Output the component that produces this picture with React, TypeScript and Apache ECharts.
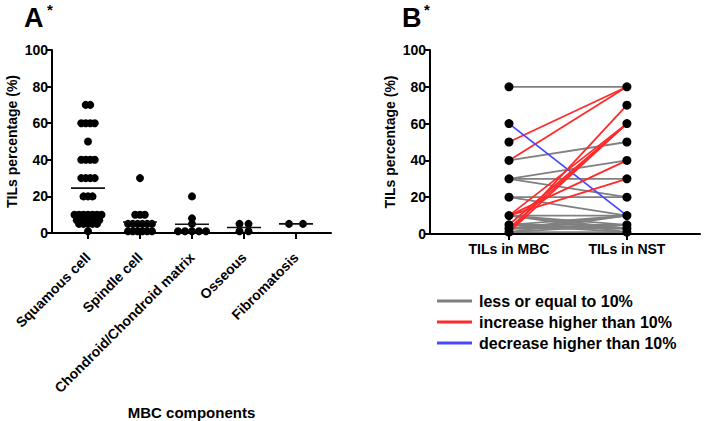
import React, { useEffect, useRef } from "react";
import * as echarts from "echarts";

const categories = ["Squamous cell", "Spindle cell", "Chondroid/Chondroid matrix", "Osseous", "Fibromatosis"];
const squamous = [70, 70, 60, 60, 60, 60, 50, 40, 40, 40, 40, 30, 30, 30, 30, 20, 20, 20, 10, 10, 10, 10, 10, 10, 10, 7, 7, 7, 7, 7, 7, 5, 5, 5, 5, 5, 1];
const spindle = [30, 10, 10, 10, 5, 5, 5, 5, 5, 5, 1, 1, 1, 1, 1, 1];
const chondroid = [20, 8, 5, 1, 1, 1, 1, 1];
const osseous = [5, 5, 1, 1];
const fibromatosis = [5, 5];
const groupsA = [squamous, spindle, chondroid, osseous, fibromatosis];

const pairCategories = ["TILs in MBC", "TILs in NST"];
const tilsMBC = [80, 50, 40, 60, 40, 30, 30, 30, 20, 20, 1, 10, 5, 3, 1, 10, 10, 10, 10, 10, 5, 5, 5, 3, 3, 1, 1, 3, 1, 10, 5];
const tilsNST = [80, 80, 80, 10, 50, 40, 30, 20, 20, 10, 70, 60, 60, 60, 60, 40, 30, 10, 5, 1, 10, 5, 1, 10, 3, 5, 1, 5, 10, 3, 3];

const legendNames = ["less or equal to 10%", "increase higher than 10%", "decrease higher than 10%"];
const legendColors = ["#808080", "#ff2a2a", "#4848ff"];

const FONT = "'Liberation Sans', Arial, sans-serif";

// symmetric row layout: equal values spread side by side, centred on the category
function rowOffsets(values: number[], spacing: number): number[] {
  const counts = new Map<number, number>();
  values.forEach((v) => counts.set(v, (counts.get(v) || 0) + 1));
  const seen = new Map<number, number>();
  return values.map((v) => {
    const n = counts.get(v) || 1;
    const j = seen.get(v) || 0;
    seen.set(v, j + 1);
    return (j - (n - 1) / 2) * spacing;
  });
}

export default function App() {
  const ref = useRef<HTMLDivElement>(null);
  useEffect(() => {
    if (!ref.current) return;
    const chart = echarts.init(ref.current, null, { renderer: "svg" });

    const gridA = { left: 52, top: 50, width: 279, height: 184 };
    const gridB = { left: 430, top: 50, width: 270, height: 184 };
    const xAMin = 0.308, xAMax = 5.673;
    const xBMin = 0.33, xBMax = 2.62;
    const pxPerX = gridA.width / (xAMax - xAMin);
    const spacings = [4.5, 4.8, 7, 9, 14];

    const dotsA: number[][] = [];
    const means: number[][] = [];
    groupsA.forEach((g, i) => {
      const offs = rowOffsets(g, spacings[i]);
      g.forEach((v, j) => dotsA.push([i + 1 + offs[j] / pxPerX, v]));
      means.push([i + 1, g.reduce((a, b) => a + b, 0) / g.length]);
    });

    const lineSeries: any[] = tilsMBC.map((a, i) => {
      const b = tilsNST[i];
      const d = b - a;
      const gi = d > 10 ? 1 : d < -10 ? 2 : 0;
      return {
        type: "line",
        name: legendNames[gi],
        xAxisIndex: 1,
        yAxisIndex: 1,
        data: [[1, a], [2, b]],
        symbol: "none",
        silent: true,
        z: gi === 0 ? 2 : 3,
        lineStyle: { color: legendColors[gi], width: 1.8 },
        itemStyle: { color: legendColors[gi] },
      };
    });
    const dotsB: number[][] = [];
    Array.from(new Set(tilsMBC)).forEach((v) => dotsB.push([1, v]));
    Array.from(new Set(tilsNST)).forEach((v) => dotsB.push([2, v]));

    const axisLine = { show: true, lineStyle: { color: "#000", width: 2 } };
    const axisTick = { show: true, length: 6, lineStyle: { color: "#000", width: 2 } };
    const tickLabel = { color: "#000", fontWeight: "bold", fontSize: 14, fontFamily: FONT, margin: 4 };
    const yAxisBase = {
      type: "value",
      min: 0,
      max: 100,
      interval: 20,
      axisLine,
      axisTick,
      splitLine: { show: false },
      axisLabel: tickLabel,
      name: "TILs percentage (%)",
      nameLocation: "middle",
      nameRotate: 90,
      nameTextStyle: { color: "#000", fontWeight: "bold", fontSize: 14, fontFamily: FONT },
    };

    chart.setOption({
      animation: false,
      backgroundColor: "#fff",
      grid: [gridA, gridB],
      legend: {
        data: legendNames,
        orient: "vertical",
        left: 432,
        top: 288,
        itemWidth: 35,
        itemHeight: 3,
        itemGap: 5,
        icon: "rect",
        selectedMode: false,
        textStyle: { color: "#000", fontWeight: "bold", fontSize: 16, fontFamily: FONT, padding: [0, 0, 0, 2] },
      },
      xAxis: [
        {
          type: "value",
          gridIndex: 0,
          min: xAMin,
          max: xAMax,
          axisLine,
          axisTick: { ...axisTick, customValues: [1, 2, 3, 4, 5] },
          splitLine: { show: false },
          axisLabel: {
            ...tickLabel,
            margin: 22,
            rotate: 45,
            customValues: [1, 2, 3, 4, 5],
            formatter: (v: number) => categories[Math.round(v) - 1] || "",
          },
          name: "MBC components",
          nameLocation: "middle",
          nameGap: 172,
          nameTextStyle: { color: "#000", fontWeight: "bold", fontSize: 15, fontFamily: FONT },
        },
        {
          type: "value",
          gridIndex: 1,
          min: xBMin,
          max: xBMax,
          axisLine,
          axisTick: { ...axisTick, customValues: [1, 2] },
          splitLine: { show: false },
          axisLabel: {
            ...tickLabel,
            fontSize: 14,
            margin: 8,
            customValues: [1, 2],
            formatter: (v: number) => pairCategories[Math.round(v) - 1] || "",
          },
        },
      ],
      yAxis: [
        { ...yAxisBase, gridIndex: 0, nameGap: 33 },
        { ...yAxisBase, gridIndex: 1, nameGap: 33 },
      ],
      graphic: [
        { type: "text", left: 24, top: 4, style: { text: "A", fontSize: 27, fontWeight: "bold", fontFamily: FONT, fill: "#000" } },
        { type: "text", left: 47, top: 2, style: { text: "*", fontSize: 15, fontWeight: "bold", fontFamily: FONT, fill: "#000" } },
        { type: "text", left: 402, top: 4, style: { text: "B", fontSize: 27, fontWeight: "bold", fontFamily: FONT, fill: "#000" } },
        { type: "text", left: 424, top: 2, style: { text: "*", fontSize: 15, fontWeight: "bold", fontFamily: FONT, fill: "#000" } },
      ],
      series: [
        {
          type: "scatter",
          xAxisIndex: 0,
          yAxisIndex: 0,
          data: dotsA,
          symbolSize: 8,
          itemStyle: { color: "#000", opacity: 1 },
          silent: true,
          z: 3,
        },
        {
          type: "scatter",
          xAxisIndex: 0,
          yAxisIndex: 0,
          data: means,
          symbol: "rect",
          symbolSize: [34, 1.6],
          itemStyle: { color: "#111", opacity: 1 },
          silent: true,
          z: 4,
        },
        ...lineSeries,
        {
          type: "scatter",
          xAxisIndex: 1,
          yAxisIndex: 1,
          data: dotsB,
          symbolSize: 9,
          itemStyle: { color: "#000", opacity: 1 },
          silent: true,
          z: 5,
        },
      ],
    });
    return () => chart.dispose();
  }, []);
  return <div ref={ref} style={{ position: "absolute", left: 0, top: 0, width: 709, height: 421 }} />;
}
